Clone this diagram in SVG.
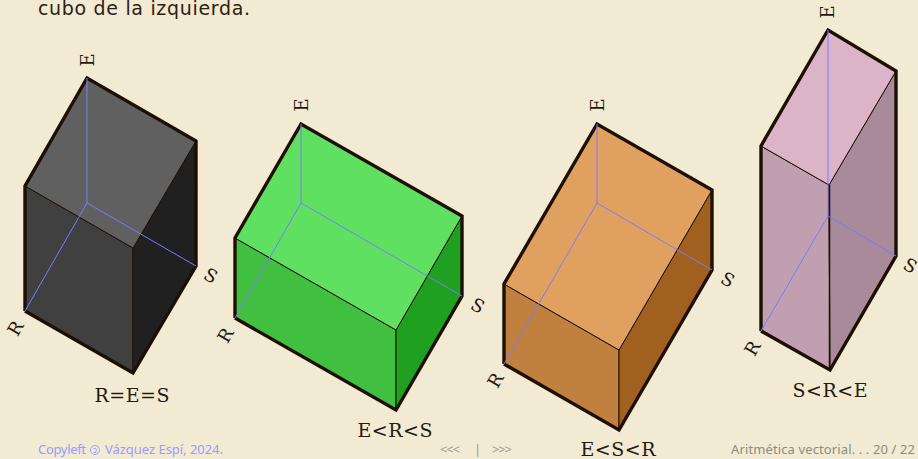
<svg xmlns="http://www.w3.org/2000/svg" width="918" height="459" viewBox="0 0 918 459">
<style>
.top{stroke:#1e0f04;stroke-width:1;stroke-linejoin:round}
.side{stroke:#1e0f04;stroke-width:1;stroke-linejoin:round}
.out{fill:none;stroke:#1e0f04;stroke-width:3.400;stroke-linejoin:miter}
.ax{fill:none;stroke:#7a7aff;stroke-width:1}
.lab{font-family:"DejaVu Serif",serif;font-size:19px;fill:#241a10;text-anchor:middle}
.tick{font-family:"DejaVu Serif",serif;font-size:18px;fill:#241a10;text-anchor:middle}
.foot{font-family:"Noto Sans",sans-serif;font-size:13px}
</style>
<rect width="918" height="459" fill="#f3ead4"/>
<text x="38" y="14.500" font-family="DejaVu Sans,sans-serif" font-size="19px" fill="#2b2113" textLength="212">cubo de la izquierda.</text>

<g id="box-equal">
<polygon class="side" fill="#404040" points="25,186 133,248 133,373 25,311"/>
<polygon class="side" fill="#202020" points="133,248 196,141 196,266 133,373"/>
<polygon class="top" fill="#606060" points="87,78 196,141 133,248 25,186"/>
<polyline class="out" points="25,311 25,186 87,78 196,141 196,266 133,373 25,311"/>
<text class="tick" transform="translate(94,60) rotate(-90)">E</text>
<text class="tick" transform="translate(21,331.500) rotate(-60)">R</text>
<text class="tick" transform="translate(207.500,281) rotate(30)">S</text>
<text class="lab" x="132" y="402" textLength="75">R=E=S</text>
</g>

<g id="box-e-r-s">
<polygon class="side" fill="#40bf40" points="235,238 396,330 396,410 235,318"/>
<polygon class="side" fill="#20a020" points="396,330 462,216 462,296 396,410"/>
<polygon class="top" fill="#60e060" points="301,124 462,216 396,330 235,238"/>
<polyline class="out" points="235,318 235,238 301,124 462,216 462,296 396,410 235,318"/>
<text class="tick" transform="translate(308,105) rotate(-90)">E</text>
<text class="tick" transform="translate(231,338.500) rotate(-60)">R</text>
<text class="tick" transform="translate(474.500,311) rotate(30)">S</text>
<text class="lab" x="395" y="437" textLength="75">E&lt;R&lt;S</text>
</g>

<g id="box-e-s-r">
<polygon class="side" fill="#bf8040" points="504,284 619,350 619,430 504,364"/>
<polygon class="side" fill="#a06020" points="619,350 712,190 712,270 619,430"/>
<polygon class="top" fill="#e0a060" points="597,124 712,190 619,350 504,284"/>
<polyline class="out" points="504,364 504,284 597,124 712,190 712,270 619,430 504,364"/>
<text class="tick" transform="translate(604,105) rotate(-90)">E</text>
<text class="tick" transform="translate(501,383.500) rotate(-60)">R</text>
<text class="tick" transform="translate(724.500,285) rotate(30)">S</text>
<text class="lab" x="618" y="456" textLength="75">E&lt;S&lt;R</text>
</g>

<g id="box-s-r-e">
<polygon class="side" fill="#c0a0b0" points="761,146 829,185 830,370 761,331"/>
<polygon class="side" fill="#a88a9a" points="829,185 896,71 896,256 830,370"/>
<polygon class="top" fill="#dcb4c8" points="828,30 896,71 829,185 761,146"/>
<polyline class="out" points="761,331 761,146 828,30 896,71 896,256 830,370 761,331"/>
<path d="M829.500,185V370" stroke="#1e0f04" stroke-width="1.500"/>
<text class="tick" transform="translate(834,12) rotate(-90)">E</text>
<text class="tick" transform="translate(758,351.500) rotate(-60)">R</text>
<text class="tick" transform="translate(907,271) rotate(30)">S</text>
<text class="lab" x="830" y="397" textLength="75">S&lt;R&lt;E</text>
</g>

<g id="connectors">
<path class="ax" d="M87,78V203M87,203L25,311M87,203L196,266"/>
<path class="ax" d="M301,124V203M301,203L235,318M301,203L462,296"/>
<path class="ax" d="M597,124V203M597,203L504,364M597,203L712,270"/>
<path class="ax" d="M828,30V216M828,216L761,331M828,216L896,256"/>
</g>

<g id="footer">
<text class="foot" x="38" y="454" fill="#9a9aff" textLength="48">Copyleft</text>
<circle cx="95" cy="450" r="4.500" fill="none" stroke="#9a9aff" stroke-width=".9"/>
<text x="95" y="453" font-family="Noto Sans,sans-serif" font-size="8.500px" text-anchor="middle" fill="#9a9aff">ɔ</text>
<text class="foot" x="105" y="454" fill="#9a9aff" textLength="118">Vázquez Espí, 2024.</text>
<text class="foot" x="440" y="454" fill="#a09a90" textLength="20">&lt;&lt;&lt;</text>
<text class="foot" x="474" y="454" fill="#a09a90">|</text>
<text class="foot" x="492" y="454" fill="#a09a90" textLength="20">&gt;&gt;&gt;</text>
<text class="foot" x="731" y="454" fill="#8f8a80" textLength="184">Aritmética vectorial. . . 20 / 22</text>
</g>
</svg>
